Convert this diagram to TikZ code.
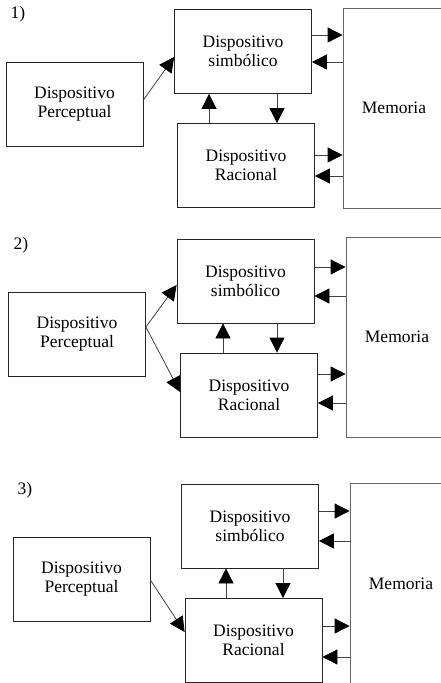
\documentclass[tikz,border=0pt]{standalone}
\usepackage{fontspec}
\setmainfont{Liberation Serif}
\usepackage{tikz}
\usetikzlibrary{arrows.meta}

\begin{document}
\begin{tikzpicture}[x=1pt, y=-1pt, >={Triangle[length=15pt,width=15pt,fill=black,color=black]},
                    line width=0.8pt, font=\fontsize{17.5}{19}\selectfont]
\tikzstyle{caja}=[draw=black!85, rectangle, align=center, inner sep=0pt,
                  minimum width=137pt, minimum height=84pt]
\tikzstyle{memoria}=[caja, draw=black!60, minimum width=102pt, minimum height=200pt]
\tikzstyle{flecha}=[->, draw=black!75]
\tikzstyle{num}=[inner sep=0pt]
\useasboundingbox (0,0) rectangle (441,683);

% 1)
\node[num] (n1) at (18,14) {1)};
\node[caja] (perc1) at (74.5,104) {Dispositivo\\Perceptual};
\node[caja] (simb1) at (243,51.5) {Dispositivo\\simbólico};
\node[caja] (rac1) at (246,165.5) {Dispositivo\\Racional};
\node[memoria] (mem1) at (394,108) {Memoria};

\draw[flecha] ([yshift=4pt]perc1.east) -- ([yshift=-5.5pt]simb1.west);
\draw[flecha] ([yshift=16.5pt]simb1.east) -- ([yshift=16.5pt]simb1.east -| mem1.west);
\draw[flecha] ([yshift=-10.5pt]simb1.east -| mem1.west) -- ([yshift=-10.5pt]simb1.east);
\draw[flecha] ([yshift=10.5pt]rac1.east) -- ([yshift=10.5pt]rac1.east -| mem1.west);
\draw[flecha] ([yshift=-10.5pt]rac1.east -| mem1.west) -- ([yshift=-10.5pt]rac1.east);
\draw[flecha] ([xshift=-37pt]rac1.north) -- ([xshift=-37pt]rac1.north |- simb1.south);
\draw[flecha] ([xshift=34pt]simb1.south) -- ([xshift=34pt]simb1.south |- rac1.north);

% 2)
\node[num] (n2) at (21,245) {2)};
\node[caja] (perc2) at (77,334) {Dispositivo\\Perceptual};
\node[caja] (simb2) at (245.5,281) {Dispositivo\\simbólico};
\node[caja] (rac2) at (249,395) {Dispositivo\\Racional};
\node[memoria] (mem2) at (397,337) {Memoria};

\draw[flecha] ([yshift=7pt]perc2.east) -- ([yshift=-4pt]simb2.west);
\draw[flecha] ([yshift=7pt]perc2.east) -- ([yshift=3pt]rac2.west);
\draw[flecha] ([yshift=14pt]simb2.east) -- ([yshift=14pt]simb2.east -| mem2.west);
\draw[flecha] ([yshift=-15pt]simb2.east -| mem2.west) -- ([yshift=-15pt]simb2.east);
\draw[flecha] ([yshift=21pt]rac2.east) -- ([yshift=21pt]rac2.east -| mem2.west);
\draw[flecha] ([yshift=-8pt]rac2.east -| mem2.west) -- ([yshift=-8pt]rac2.east);
\draw[flecha] ([xshift=-26pt]rac2.north) -- ([xshift=-26pt]rac2.north |- simb2.south);
\draw[flecha] ([xshift=31.5pt]simb2.south) -- ([xshift=31.5pt]simb2.south |- rac2.north);

% 3)
\node[num] (n3) at (25,490) {3)};
\node[caja] (perc3) at (81.5,579) {Dispositivo\\Perceptual};
\node[caja] (simb3) at (250,526) {Dispositivo\\simbólico};
\node[caja] (rac3) at (253.5,640.5) {Dispositivo\\Racional};
\node[memoria] (mem3) at (401,583.5) {Memoria};

\draw[flecha] ([yshift=-1pt]perc3.east) -- ([yshift=8.5pt]rac3.west);
\draw[flecha] ([yshift=15pt]simb3.east) -- ([yshift=15pt]simb3.east -| mem3.west);
\draw[flecha] ([yshift=-15pt]simb3.east -| mem3.west) -- ([yshift=-15pt]simb3.east);
\draw[flecha] ([yshift=14.5pt]rac3.east) -- ([yshift=14.5pt]rac3.east -| mem3.west);
\draw[flecha] ([yshift=-16.5pt]rac3.east -| mem3.west) -- ([yshift=-16.5pt]rac3.east);
\draw[flecha] ([xshift=-27.5pt]rac3.north) -- ([xshift=-27.5pt]rac3.north |- simb3.south);
\draw[flecha] ([xshift=33pt]simb3.south) -- ([xshift=33pt]simb3.south |- rac3.north);
\end{tikzpicture}
\end{document}
